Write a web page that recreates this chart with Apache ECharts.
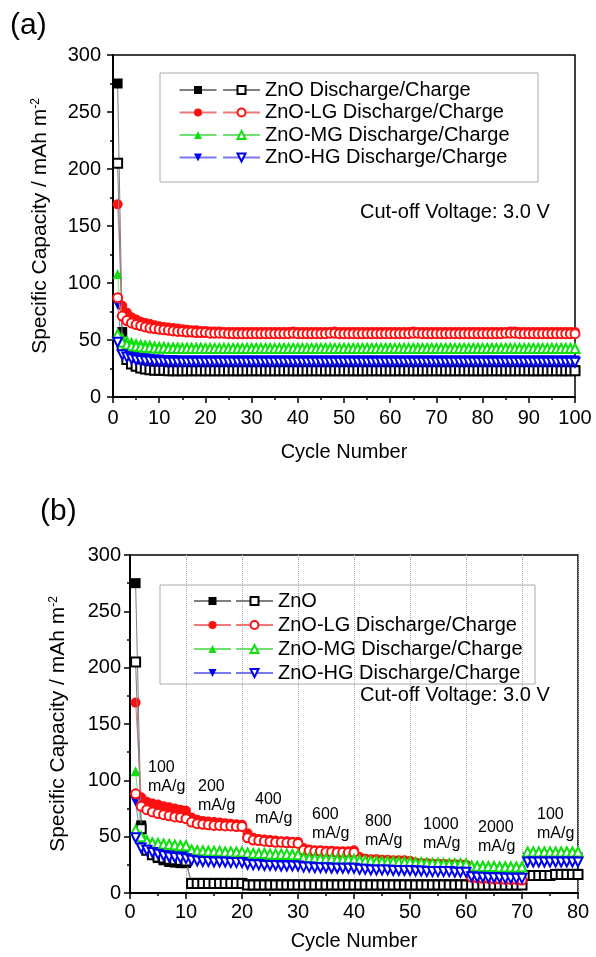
<!DOCTYPE html>
<html>
<head>
<meta charset="utf-8">
<script src="https://cdn.jsdelivr.net/npm/echarts@6/dist/echarts.min.js"></script>
<style>
html, body { margin: 0; padding: 0; background: #fff; }
#main { width: 596px; height: 957px; }
</style>
</head>
<body>
<div id="main"></div>
<script>
// (a) cycling, cycles 1-100, discharge / charge capacity (mAh m-2)
var znoA_dis = [
275, 57, 36, 31, 28, 26.5, 25.5, 25, 24.5, 24.5,
24, 24, 24, 23.5, 23.5, 23.5, 23.5, 23.5, 23.5, 23.5,
23.5, 23.5, 23.5, 23.5, 23.5, 23.5, 23.5, 23.5, 23.5, 23.5,
23.5, 23.5, 23.5, 23.5, 23.5, 23.5, 23.5, 23.5, 23.5, 23.5,
23.5, 23.5, 23.5, 23.5, 23.5, 23.5, 23.5, 23.5, 23.5, 23.5,
23.5, 23.5, 23.5, 23.5, 23.5, 23.5, 23.5, 23.5, 23.5, 23.5,
23.5, 23.5, 23.5, 23.5, 23.5, 23.5, 23.5, 23.5, 23.5, 23.5,
23.5, 23.5, 23.5, 23.5, 23.5, 23.5, 23.5, 23.5, 23.5, 23.5,
23.5, 23.5, 23.5, 23.5, 23.5, 23.5, 23.5, 23.5, 23.5, 23.5,
23.5, 23.5, 23.5, 23.5, 23.5, 23.5, 23.5, 23.5, 23.5, 23.5
];
var znoA_chg = [
205, 45, 33, 29, 27, 25.5, 24.5, 24, 23.5, 23.5,
23.5, 23, 23, 23, 23, 23, 23, 23, 23, 23,
23, 23, 23, 23, 23, 23, 23, 23, 23, 23,
23, 23, 23, 23, 23, 23, 23, 23, 23, 23,
23, 23, 23, 23, 23, 23, 23, 23, 23, 23,
23, 23, 23, 23, 23, 23, 23, 23, 23, 23,
23, 23, 23, 23, 23, 23, 23, 23, 23, 23,
23, 23, 23, 23, 23, 23, 23, 23, 23, 23,
23, 23, 23, 23, 23, 23, 23, 23, 23, 23,
23, 23, 23, 23, 23, 23, 23, 23, 23, 23
];
var lgA_dis = [
169, 80, 74, 70, 68, 66, 65, 64, 63, 62,
61.5, 61, 60.5, 60, 59.5, 59, 58.5, 58.5, 58, 58,
57.5, 57.5, 57.5, 57, 57, 57, 57, 57, 57, 57,
57, 57, 57, 57, 57, 57, 57, 57, 57.5, 57,
57, 57, 57, 57, 57, 57, 57, 57.5, 57, 57,
57, 57, 57, 57, 57, 57, 57, 57, 57, 57,
57, 57, 57, 57, 57.5, 57, 57, 57, 57, 57,
57, 57, 57, 57, 57, 57, 57, 57, 57, 57,
57, 57, 57, 57, 57, 57.5, 57.5, 57, 57, 57,
57, 57, 57, 57, 57, 57, 57, 57, 57, 57
];
var lgA_chg = [
87, 71, 67, 65, 63.5, 62.5, 61.5, 60.5, 60, 59.5,
59, 58.5, 58, 57.5, 57.5, 57, 57, 56.5, 56.5, 56.5,
56, 56, 56, 56, 55.5, 55.5, 55.5, 55.5, 55.5, 55.5,
55.5, 55.5, 55.5, 55.5, 55.5, 55.5, 55.5, 55.5, 56, 55.5,
55.5, 55.5, 55.5, 55.5, 55.5, 55.5, 56, 56, 55.5, 55.5,
55.5, 55.5, 55.5, 55.5, 55.5, 55.5, 55.5, 55.5, 55.5, 55.5,
55.5, 55.5, 55.5, 55.5, 56, 56, 55.5, 55.5, 55.5, 55.5,
55.5, 55.5, 55.5, 55.5, 55.5, 55.5, 55.5, 55.5, 55.5, 55.5,
55.5, 55.5, 55.5, 55.5, 56, 56, 56, 55.5, 55.5, 55.5,
55.5, 55.5, 55.5, 55.5, 55.5, 55.5, 55.5, 55.5, 55.5, 55.5
];
var mgA_dis = [
108, 53, 50, 48.5, 47.5, 47, 46.5, 46, 45.5, 45,
45, 44.5, 44.5, 44.5, 44, 44, 44, 44, 44, 43.5,
43.5, 43.5, 43.5, 43.5, 43.5, 43.5, 43.5, 43.5, 43.5, 43.5,
43.5, 43.5, 43.5, 43.5, 43.5, 43.5, 43.5, 43.5, 43.5, 43.5,
43.5, 43.5, 43.5, 43.5, 43.5, 43.5, 43.5, 43.5, 43.5, 43.5,
43.5, 43.5, 43.5, 43.5, 43.5, 43.5, 43.5, 43.5, 43.5, 43.5,
43.5, 43.5, 43.5, 43.5, 43.5, 43.5, 43.5, 43.5, 43.5, 43.5,
43.5, 43.5, 43.5, 43.5, 43.5, 43.5, 43.5, 43.5, 43.5, 43.5,
43.5, 43.5, 43.5, 43.5, 43.5, 43.5, 43.5, 43.5, 43.5, 43.5,
43.5, 43.5, 43.5, 43.5, 43.5, 43.5, 43.5, 43.5, 43.5, 43.5
];
var mgA_chg = [
55, 48, 46, 45, 44.5, 44, 43.5, 43.5, 43, 43,
43, 42.5, 42.5, 42.5, 42.5, 42.5, 42.5, 42.5, 42.5, 42.5,
42.5, 42.5, 42.5, 42.5, 42.5, 42.5, 42.5, 42.5, 42.5, 42.5,
42.5, 42.5, 42.5, 42.5, 42.5, 42.5, 42.5, 42.5, 42.5, 42.5,
42.5, 42.5, 42.5, 42.5, 42.5, 42.5, 42.5, 42.5, 42.5, 42.5,
42.5, 42.5, 42.5, 42.5, 42.5, 42.5, 42.5, 42.5, 42.5, 42.5,
42.5, 42.5, 42.5, 42.5, 42.5, 42.5, 42.5, 42.5, 42.5, 42.5,
42.5, 42.5, 42.5, 42.5, 42.5, 42.5, 42.5, 42.5, 42.5, 42.5,
42.5, 42.5, 42.5, 42.5, 42.5, 42.5, 42.5, 42.5, 42.5, 42.5,
42.5, 42.5, 42.5, 42.5, 42.5, 42.5, 42.5, 42.5, 42.5, 42.5
];
var hgA_dis = [
81, 41, 38, 36, 35, 34.5, 34, 33.5, 33, 33,
32.5, 32.5, 32.5, 32, 32, 32, 32, 32, 32, 32,
32, 32, 32, 32, 32, 32, 32, 32, 32, 32,
32, 32, 32, 32, 32, 32, 32, 32, 32, 32,
32, 32, 32, 32, 32, 32, 32, 32, 32, 32,
32, 32, 32, 32, 32, 32, 32, 32, 32, 32,
32, 32, 32, 32, 32, 32, 32, 32, 32, 32,
32, 32, 32, 32, 32, 32, 32, 32, 32, 32,
32, 32, 32, 32, 32, 32, 32, 32, 32, 32,
32, 32, 32, 32, 32, 32, 32, 32, 32, 32
];
var hgA_chg = [
48, 37, 35, 33.5, 32.5, 32, 31.5, 31.5, 31, 31,
31, 30.5, 30.5, 30.5, 30.5, 30.5, 30.5, 30.5, 30.5, 30.5,
30.5, 30.5, 30.5, 30.5, 30.5, 30.5, 30.5, 30.5, 30.5, 30.5,
30.5, 30.5, 30.5, 30.5, 30.5, 30.5, 30.5, 30.5, 30.5, 30.5,
30.5, 30.5, 30.5, 30.5, 30.5, 30.5, 30.5, 30.5, 30.5, 30.5,
30.5, 30.5, 30.5, 30.5, 30.5, 30.5, 30.5, 30.5, 30.5, 30.5,
30.5, 30.5, 30.5, 30.5, 30.5, 30.5, 30.5, 30.5, 30.5, 30.5,
30.5, 30.5, 30.5, 30.5, 30.5, 30.5, 30.5, 30.5, 30.5, 30.5,
30.5, 30.5, 30.5, 30.5, 30.5, 30.5, 30.5, 30.5, 30.5, 30.5,
30.5, 30.5, 30.5, 30.5, 30.5, 30.5, 30.5, 30.5, 30.5, 30.5
];

// (b) rate test, cycles 1-80
var znoB_dis = [
275, 60, 40, 35, 31, 29, 27.5, 27, 26.5, 26.5,
9, 9, 9, 9, 9, 9, 9, 9, 9, 9,
7.5, 7.5, 7.5, 7.5, 7.5, 7.5, 7.5, 7.5, 7.5, 7.5,
7.5, 7.5, 7.5, 7.5, 7.5, 7.5, 7.5, 7.5, 7.5, 7.5,
7.5, 7.5, 7.5, 7.5, 7.5, 7.5, 7.5, 7.5, 7.5, 7.5,
7.5, 7.5, 7.5, 7.5, 7.5, 7.5, 7.5, 7.5, 7.5, 7.5,
7.5, 7.5, 7.5, 7.5, 7.5, 7.5, 7.5, 7.5, 7.5, 7.5,
16, 16, 16, 16, 16, 17, 17, 17, 17, 17
];
var znoB_chg = [
205, 57, 38, 34, 32, 31, 30, 29.5, 29, 28.5,
8.5, 8.5, 8.5, 8.5, 8.5, 8.5, 8.5, 8.5, 8.5, 8.5,
7, 7, 7, 7, 7, 7, 7, 7, 7, 7,
7, 7, 7, 7, 7, 7, 7, 7, 7, 7,
7, 7, 7, 7, 7, 7, 7, 7, 7, 7,
7, 7, 7, 7, 7, 7, 7, 7, 7, 7,
7, 7, 7, 7, 7, 7, 7, 7, 7, 7,
15.5, 15.5, 15.5, 15.5, 15.5, 16.5, 16.5, 16.5, 16.5, 16.5
];
var lgB_dis = [
169, 85, 81, 79.5, 78.5, 77, 76, 75, 74, 73,
67, 65, 64, 63.5, 63, 62.5, 62, 61.5, 61, 60.5,
53, 49, 48, 47.5, 47, 46.5, 46, 46, 45.5, 45.5,
40, 38.5, 38, 38, 37.5, 37.5, 37, 37, 37, 38,
32, 30.5, 30, 30, 29.5, 29.5, 29, 29, 29, 28.5,
27, 26.5, 26.5, 26, 26, 26, 25.5, 25.5, 25.5, 25,
16, 15, 14.5, 14, 14, 13.5, 13.5, 13, 13, 13
];
var lgB_chg = [
88, 77, 74, 72, 70.5, 69.5, 68.5, 67.5, 67, 66,
63, 61.5, 61, 60.5, 60, 60, 59.5, 59.5, 59, 59,
49, 47, 46.5, 46, 45.5, 45, 45, 44.5, 44.5, 44,
38, 37.5, 37, 37, 36.5, 36.5, 36, 36, 36, 36,
30, 29.5, 29, 29, 28.5, 28.5, 28, 28, 28, 27.5,
26.5, 26, 26, 25.5, 25.5, 25, 25, 25, 24.5, 24.5,
14, 13.5, 13, 13, 12.5, 12.5, 12, 12, 12, 11.5
];
var mgB_dis = [
108, 54, 48, 46, 45, 44.5, 44, 43.5, 43, 43,
39.5, 38.5, 38, 38, 37.5, 37.5, 37.5, 37, 37, 37,
36.5, 36, 35.5, 35.5, 35.5, 35, 35, 35, 35, 35,
32.5, 32, 31.5, 31.5, 31, 31, 31, 31, 30.5, 30.5,
29.5, 29, 29, 29, 28.5, 28.5, 28.5, 28.5, 28, 28,
27.5, 27.5, 27, 27, 27, 26.5, 26.5, 26.5, 26.5, 26.5,
25, 25, 25, 24.5, 24.5, 24.5, 24.5, 24.5, 24.5, 24.5,
37.5, 37.5, 37.5, 37.5, 37.5, 37.5, 37.5, 37.5, 37.5, 37.5
];
var mgB_chg = [
56, 50, 46, 44.5, 44, 43.5, 43, 42.5, 42, 42,
38, 37.5, 37.5, 37, 37, 37, 36.5, 36.5, 36.5, 36.5,
35.5, 35, 35, 35, 34.5, 34.5, 34.5, 34.5, 34, 34,
31.5, 31, 31, 30.5, 30.5, 30.5, 30, 30, 30, 30,
29, 28.5, 28.5, 28, 28, 28, 28, 27.5, 27.5, 27.5,
27, 27, 26.5, 26.5, 26.5, 26, 26, 26, 26, 26,
24, 23.5, 23.5, 23.5, 23.5, 23, 23, 23, 23, 23,
36.5, 36.5, 36.5, 36.5, 36.5, 36.5, 36.5, 36.5, 36.5, 36.5
];
var hgB_dis = [
81, 44, 42, 40.5, 39, 38, 37, 36, 35.5, 35,
32.5, 32, 31.5, 31.5, 31, 31, 30.5, 30.5, 30, 30,
28, 27.5, 27.5, 27, 27, 27, 26.5, 26.5, 26.5, 26.5,
26, 25.5, 25.5, 25.5, 25, 25, 25, 25, 24.5, 24.5,
24, 23.5, 23.5, 23.5, 23, 23, 23, 23, 23, 22.5,
22.5, 22, 22, 22, 22, 21.5, 21.5, 21.5, 21.5, 21.5,
18, 17.5, 17.5, 17, 17, 17, 17, 16.5, 16.5, 16.5,
31.5, 31.5, 31.5, 31.5, 31.5, 31.5, 31.5, 31.5, 31.5, 31.5
];
var hgB_chg = [
49, 40, 38, 36, 34.5, 33, 32, 31.5, 31, 30.5,
29, 28.5, 28, 28, 27.5, 27.5, 27.5, 27, 27, 27,
25.5, 25, 25, 24.5, 24.5, 24.5, 24, 24, 24, 24,
23, 23, 22.5, 22.5, 22.5, 22, 22, 22, 22, 22,
21, 21, 20.5, 20.5, 20.5, 20.5, 20, 20, 20, 20,
19.5, 19.5, 19, 19, 19, 19, 19, 18.5, 18.5, 18.5,
14.5, 14, 14, 13.5, 13.5, 13.5, 13, 13, 13, 13,
27.5, 27.5, 27.5, 27.5, 27.5, 27.5, 27.5, 27.5, 27.5, 27.5
];

var legendA = ['ZnO Discharge/Charge', 'ZnO-LG Discharge/Charge', 'ZnO-MG Discharge/Charge', 'ZnO-HG Discharge/Charge'];
var legendB = ['ZnO', 'ZnO-LG Discharge/Charge', 'ZnO-MG Discharge/Charge', 'ZnO-HG Discharge/Charge'];
var rateLabels = ['100', '200', '400', '600', '800', '1000', '2000', '100'];
var yTicks = [0, 50, 100, 150, 200, 250, 300];

var FONT = '"Liberation Sans", Arial, sans-serif';

// marker style per sample: ZnO, LG, MG, HG
var marks = [
    { sym: 'rect', color: '#000', line: '#808080', rot: 0 },
    { sym: 'circle', color: '#ff1010', line: '#f07878', rot: 0 },
    { sym: 'triangle', color: '#10e010', line: '#70e070', rot: 0 },
    { sym: 'triangle', color: '#0000f0', line: '#7878f0', rot: 180 }
];

var labelOf = {};

function mkSeries(name, vals, gi, k, empty) {
    var m = marks[k];
    return {
        name: name,
        type: 'line',
        xAxisIndex: gi,
        yAxisIndex: gi,
        data: vals.map(function (v, i) { return [i + 1, v]; }),
        symbol: empty ? 'empty' + m.sym.charAt(0).toUpperCase() + m.sym.slice(1) : m.sym,
        symbolSize: empty ? 9 : 10,
        symbolRotate: m.rot,
        showAllSymbol: true,
        itemStyle: { color: m.color, borderWidth: empty ? 1 : 0 },
        lineStyle: { color: m.line, width: 1 },
        emphasis: { disabled: true },
        z: empty ? 3 : 2
    };
}

var setsA = [[znoA_dis, znoA_chg], [lgA_dis, lgA_chg], [mgA_dis, mgA_chg], [hgA_dis, hgA_chg]];
var setsB = [[znoB_dis, znoB_chg], [lgB_dis, lgB_chg], [mgB_dis, mgB_chg], [hgB_dis, hgB_chg]];

var series = [];
var legNames = [[], [], [], []];
[setsA, setsB].forEach(function (sets, gi) {
    sets.forEach(function (pair, k) {
        var dn = (gi ? 'b' : 'a') + k + 'd';
        var cn = (gi ? 'b' : 'a') + k + 'c';
        labelOf[dn] = labelOf[cn] = (gi ? legendB : legendA)[k];
        series.push(mkSeries(dn, pair[0], gi, k, false));
        legNames[gi * 2].push(dn);
    });
    sets.forEach(function (pair, k) {
        var cn = (gi ? 'b' : 'a') + k + 'c';
        series.push(mkSeries(cn, pair[1], gi, k, true));
        legNames[gi * 2 + 1].push(cn);
    });
});

// two legends side by side: filled symbols (text hidden), then open symbols with text
function mkLegend(names, left, firstRow, lh, visibleText) {
    return {
        data: names,
        orient: 'vertical',
        left: left,
        top: firstRow - lh / 2,
        padding: 0,
        itemGap: 0,
        itemWidth: 37,
        itemHeight: 10,
        selectedMode: false,
        formatter: function (n) { return labelOf[n]; },
        textStyle: {
            fontFamily: FONT, fontSize: 20, lineHeight: lh,
            color: visibleText ? '#000' : 'rgba(0,0,0,0)'
        }
    };
}

function xAxis(gi, max, grid) {
    return {
        type: 'value', gridIndex: gi, min: 0, max: max, interval: 10,
        name: 'Cycle Number', nameLocation: 'middle', nameGap: gi ? 38 : 45,
        nameTextStyle: { fontFamily: FONT, fontSize: 20, color: '#000' },
        axisLine: { show: true, onZero: false, lineStyle: { color: '#000', width: 2 } },
        axisTick: { show: true, length: 6, lineStyle: { color: '#000', width: 1.5 } },
        minorTick: { show: true, splitNumber: 2, length: 3, lineStyle: { color: '#000', width: 1.5 } },
        axisLabel: { fontFamily: FONT, fontSize: 20, color: '#000', margin: gi ? 9 : 11 },
        splitLine: grid ? { show: true, lineStyle: { color: '#aaa', type: 'dotted', width: 1 } } : { show: false }
    };
}

function yAxis(gi, gap) {
    return {
        type: 'value', gridIndex: gi, min: yTicks[0], max: yTicks[yTicks.length - 1], interval: 50,
        name: 'Specific Capacity / mAh m{s|-2}', nameLocation: 'middle', nameGap: gap,
        nameTextStyle: {
            fontFamily: FONT, fontSize: 21, color: '#000',
            rich: { s: { fontFamily: FONT, fontSize: 12, color: '#000', verticalAlign: 'top' } }
        },
        axisLine: { show: true, onZero: false, lineStyle: { color: '#000', width: 2 } },
        axisTick: { show: true, length: 6, lineStyle: { color: '#000', width: 1.5 } },
        minorTick: { show: true, splitNumber: 2, length: 3, lineStyle: { color: '#000', width: 1.5 } },
        axisLabel: { fontFamily: FONT, fontSize: 20, color: '#000', margin: gi ? 9 : 12 },
        splitLine: { show: false }
    };
}

function txt(x, y, s, size, va) {
    return {
        type: 'text', x: x, y: y, z: 10,
        style: { text: s, fontFamily: FONT, fontSize: size, fill: '#000', verticalAlign: va || 'middle', lineHeight: 19 }
    };
}

var graphics = [
    txt(10, 26, '(a)', 30),
    txt(40, 512, '(b)', 30),
    txt(360, 212, 'Cut-off Voltage: 3.0 V', 20),
    txt(360, 695, 'Cut-off Voltage: 3.0 V', 20),
    { type: 'rect', shape: { x: 160, y: 73, width: 378, height: 109 }, style: { fill: 'none', stroke: '#aaa', lineWidth: 1 }, z: 5 },
    { type: 'rect', shape: { x: 160, y: 585, width: 375, height: 99 }, style: { fill: 'none', stroke: '#aaa', lineWidth: 1 }, z: 5 }
];
// rate annotations in panel (b): left edge and first-line centre
var ratePos = [[148, 768], [198, 787], [255, 800], [312, 815], [365, 822], [423, 825], [478, 828], [537, 815]];
rateLabels.forEach(function (r, i) {
    graphics.push(txt(ratePos[i][0], ratePos[i][1] - 9.5, r + '\nmA/g', 16, 'top'));
});

var chart = echarts.init(document.getElementById('main'), null, { renderer: 'canvas' });
chart.setOption({
    animation: false,
    backgroundColor: '#fff',
    grid: [
        { left: 113, top: 55, width: 462, height: 342, show: true, borderColor: '#000', borderWidth: 1.5, backgroundColor: 'transparent' },
        { left: 130, top: 555, width: 448, height: 338, show: true, borderColor: '#000', borderWidth: 1.5, backgroundColor: 'transparent' }
    ],
    xAxis: [xAxis(0, 100, false), xAxis(1, 80, true)],
    yAxis: [yAxis(0, 62), yAxis(1, 61)],
    legend: [
        mkLegend(legNames[0], 178.5, 90, 22.5, false),
        mkLegend(legNames[1], 222, 90, 22.5, true),
        mkLegend(legNames[2], 193, 601, 24, false),
        mkLegend(legNames[3], 235, 601, 24, true)
    ],
    graphic: graphics,
    series: series
});
</script>
</body>
</html>
